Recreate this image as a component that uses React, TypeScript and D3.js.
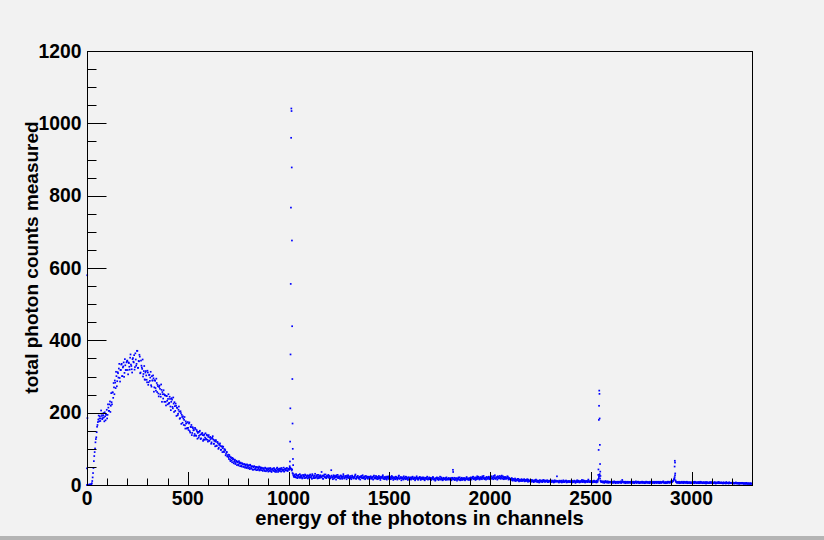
import React from 'react';
import * as d3 from 'd3';

// histogram: counts per channel, two interleaved samplings (channels 4k and 4k+2)
const CHANNEL_STEP = 4;
const countsEven: number[] = [
  0,0,1,0,2,1,5,21,47,80,101,127,146,166,181,176,190,184,197,182,193,187,201,179,194,
  184,223,205,223,202,254,223,256,282,251,283,313,273,312,297,335,286,318,335,301,328,299,348,318,339,
  344,306,337,319,361,329,311,351,339,319,364,330,371,324,343,360,309,344,325,347,307,329,291,315,291,
  316,277,304,288,313,272,289,303,258,290,268,294,257,273,245,275,251,278,230,251,262,230,248,220,246,
  223,251,227,238,207,240,216,242,202,218,225,191,213,197,217,183,204,169,188,190,166,188,156,170,156,
  174,152,173,145,160,138,160,151,136,158,137,152,128,147,136,150,127,141,144,122,137,125,143,126,137,
  120,138,123,133,114,130,135,114,122,107,124,108,119,100,111,115,97,106,91,106,91,98,82,91,79,
  84,72,79,66,74,63,71,60,68,58,66,55,63,54,62,52,60,51,59,50,57,48,56,47,55,
  46,55,44,53,45,52,42,51,43,50,41,49,42,48,40,49,41,47,39,46,40,48,38,45,41,
  37,46,39,44,36,45,40,47,37,43,39,48,36,44,41,46,37,43,40,48,38,45,41,47,39,
  44,42,47,45,40,33,27,22,29,21,27,19,26,22,30,20,25,18,28,23,19,27,21,25,18,
  26,20,29,22,17,27,24,19,31,21,25,18,28,23,20,24,36,26,17,24,21,29,19,23,26,
  20,25,18,41,22,16,27,21,24,15,23,28,19,22,17,26,20,24,30,18,21,25,16,23,27,
  19,24,21,16,26,22,18,23,29,17,21,25,19,22,15,24,20,27,18,22,16,25,21,19,23,
  22,17,24,19,21,15,26,20,18,23,16,21,25,19,14,22,20,27,17,21,18,23,15,20,24,
  18,22,16,25,19,14,21,17,23,20,15,19,26,18,21,13,20,17,24,19,16,22,18,14,21,
  17,21,15,19,23,16,18,13,20,24,17,15,19,22,14,18,21,16,19,13,20,17,23,15,18,
  16,20,14,18,22,15,17,12,19,21,16,14,18,23,15,17,13,20,16,18,14,21,17,15,19,
  15,18,13,20,42,16,14,19,17,12,18,21,15,13,17,20,14,16,19,13,17,22,15,18,14,
  17,21,15,19,23,16,18,14,20,24,17,19,15,22,18,16,21,25,17,19,15,22,18,20,16,
  21,17,24,19,16,22,27,18,20,15,23,19,25,17,21,18,24,16,20,22,17,19,23,15,18,
  17,14,19,12,16,13,18,11,15,13,17,10,14,12,16,11,13,15,10,14,12,16,9,13,11,
  12,9,14,11,8,13,10,15,9,12,11,7,13,10,12,8,14,11,9,12,10,13,8,11,10,
  11,8,12,10,7,13,9,11,24,10,8,12,9,11,7,10,13,8,10,12,7,9,11,8,10,
  9,12,7,10,8,11,6,9,13,8,10,7,11,9,14,8,10,12,7,9,11,8,15,9,10,
  8,11,7,9,12,8,10,7,9,14,22,30,12,8,10,7,9,6,11,8,7,10,6,9,8,
  7,9,6,8,10,7,5,8,9,6,8,7,10,6,14,8,7,9,5,8,6,9,7,8,6,
  8,6,9,7,5,8,10,6,7,9,5,8,6,7,9,6,8,5,7,9,6,8,7,5,8,
  7,9,6,8,5,7,9,6,8,7,5,9,6,8,7,10,6,7,5,8,6,9,7,6,8,
  7,9,11,15,22,13,8,6,8,7,5,8,6,9,7,5,8,6,7,9,5,7,6,8,6,
  7,5,8,6,9,7,5,6,8,7,5,9,6,7,5,8,6,7,4,8,6,7,5,6,8,
  6,5,7,6,8,4,6,7,5,8,6,5,7,6,4,7,5,6,8,5,6,4,7,5,6,
  5,7,4,6,5,7,4,6,5,3,6,5,4,6,5,3,5,4,6,4,3,5,4,3,4,
];
const countsOdd: number[] = [
  0,0,0,1,0,2,11,33,66,91,118,132,161,174,192,184,177,206,191,185,199,176,190,196,208,
  194,214,205,231,219,229,256,241,270,289,268,301,287,309,322,296,318,333,301,325,339,310,331,318,342,
  318,339,327,352,333,320,348,341,359,326,347,335,371,324,342,355,311,330,321,300,315,292,311,303,284,
  311,284,305,297,276,301,289,295,270,288,261,282,277,253,271,266,244,263,257,239,251,248,230,246,233,
  238,225,244,217,230,236,212,225,229,205,219,214,193,208,203,185,199,194,172,184,180,165,176,171,158,
  158,170,149,161,166,144,157,152,141,155,136,148,144,131,147,139,129,142,138,126,140,131,128,139,125,
  133,122,131,127,118,130,126,114,124,120,109,119,115,103,112,108,98,107,102,93,99,96,86,91,80,
  77,83,70,77,68,75,72,64,70,61,67,64,57,66,59,62,54,60,57,51,58,53,49,57,50,
  53,48,56,47,51,43,49,52,44,47,50,42,46,51,43,45,48,41,46,44,39,47,43,40,46,
  43,40,47,38,42,45,39,44,41,36,46,42,39,45,38,43,47,40,42,37,44,41,46,39,43,
  45,48,46,44,43,31,24,26,23,30,21,25,28,20,24,27,22,19,26,24,29,20,23,27,21,
  23,27,21,25,30,19,22,26,20,24,28,22,19,25,27,21,23,18,26,29,22,20,25,23,28,
  24,19,22,26,20,23,18,25,21,27,22,19,24,20,26,23,17,22,25,19,24,21,26,20,22,
  22,18,25,20,23,19,21,26,18,22,24,20,17,23,21,25,19,22,20,24,18,21,23,17,22,
  19,23,21,17,22,24,18,21,25,19,22,17,20,23,19,21,24,18,22,16,21,19,23,20,17,
  21,17,20,23,18,21,19,16,22,18,20,24,17,19,22,18,21,15,20,18,23,17,19,21,16,
  19,16,20,22,17,19,21,16,18,20,15,19,22,17,20,16,18,21,15,19,17,20,16,18,21,
  18,15,19,17,21,16,18,14,19,17,20,15,18,16,21,17,14,19,16,18,20,15,17,19,16,
  17,19,15,18,16,20,14,17,19,16,18,15,21,17,14,18,16,19,15,17,20,16,18,15,19,
  19,16,20,22,17,19,21,18,16,20,23,18,19,17,21,24,18,20,16,19,22,17,20,23,18,
  20,23,18,21,25,19,17,22,20,24,18,21,19,23,26,18,20,22,17,21,19,24,18,20,16,
  16,18,14,17,15,12,16,14,13,17,12,15,13,11,15,14,12,16,13,11,14,12,15,10,12,
  11,13,10,12,9,11,14,10,12,8,11,13,10,9,12,11,10,13,9,11,12,8,10,12,9,
  10,12,9,11,8,10,12,9,11,10,7,11,9,12,10,8,11,9,10,12,8,10,9,11,8,
  10,8,11,9,12,10,8,11,9,12,10,8,9,11,10,13,9,8,11,10,9,12,10,8,11,
  9,10,8,11,9,10,8,12,9,17,25,18,10,9,8,10,7,9,8,10,7,9,8,7,9,
  8,7,9,6,8,9,7,8,6,9,7,8,6,9,10,7,8,6,9,7,8,6,8,7,9,
  7,8,6,9,7,8,6,8,9,7,6,8,7,9,6,8,7,6,9,7,8,6,7,9,7,
  8,6,7,9,7,8,6,7,9,6,8,7,6,8,9,7,6,8,7,6,9,7,8,9,10,
  8,10,12,16,27,10,7,8,6,9,7,6,8,7,6,9,7,8,6,7,8,6,7,5,7,
  6,8,7,5,7,8,6,7,5,8,6,7,8,5,6,7,5,8,6,7,5,6,8,6,7,
  7,6,5,7,6,5,7,6,8,5,6,7,5,6,7,5,6,4,7,6,5,7,5,6,5,
  6,5,6,4,6,5,5,4,6,5,4,5,6,4,5,4,5,3,5,4,4,3,4,5,3,
];

// individual channels of the sharp lines (and first channels)
const peakChannels: number[] = [
  0, 1, 2,
  1006, 1007, 1008, 1009, 1010, 1011, 1012, 1013, 1014, 1015, 1016, 1017, 1018, 1019, 1020, 1021, 1022, 1023,
  1817,
  2537, 2538, 2539, 2540, 2541, 2542, 2543, 2544, 2545, 2546, 2547, 2548,
  2915, 2916, 2917, 2918, 2919,
];
const peakCounts: number[] = [
  46, 580, 185,
  52, 65, 120, 212, 361, 556, 767, 960, 1041, 1034, 878, 676, 439, 293, 170, 100, 72, 55,
  36,
  28, 43, 97, 180, 219, 261, 252, 184, 111, 58, 37, 25,
  18, 51, 67, 62, 32,
];

const xTickValues = [0, 500, 1000, 1500, 2000, 2500, 3000];
const yTickValues = [0, 200, 400, 600, 800, 1000, 1200];
const xTitle = 'energy of the photons in channels';
const yTitle = 'total photon counts measured';

const FONT = '"Liberation Sans", Arial, Helvetica, sans-serif';

export default function App() {
  const W = 824, H = 540;
  const left = 87, right = 752, top = 51, bottom = 485;
  const x = d3.scaleLinear().domain([0, 3300]).range([left, right]);
  const y = d3.scaleLinear().domain([0, 1200]).range([bottom, top]);

  const points = countsEven
    .map((v, i) => ({ ch: i * CHANNEL_STEP, v }))
    .concat(countsOdd.map((v, i) => ({ ch: i * CHANNEL_STEP + CHANNEL_STEP / 2, v })))
    .concat(peakChannels.map((ch, i) => ({ ch, v: peakCounts[i] })));

  const xMinor = d3.range(0, 3301, 100);
  const yMinor = d3.range(0, 1201, 50);
  const dot = 1.7;

  return (
    <div style={{ position: 'absolute', left: 0, top: 0, width: W, height: H }}>
      <svg width={W} height={H} style={{ display: 'block' }}>
        <rect x={0} y={0} width={W} height={H} fill="#f2f2f2" />
        <rect x={0} y={536} width={W} height={4} fill="#b4b4b4" />
        <g fill="#0000ff">
          {points.map((p, i) => (
            <rect key={i} x={x(p.ch) - dot / 2} y={y(p.v) - dot / 2} width={dot} height={dot} />
          ))}
        </g>
        <rect x={left + 0.5} y={top + 0.5} width={right - left} height={bottom - top} fill="none" stroke="#000" strokeWidth={1} />
        <g stroke="#000" strokeWidth={1}>
          {xMinor.map((t) => {
            const major = t % 500 === 0;
            const xp = Math.round(x(t)) + 0.5;
            return <line key={'xm' + t} x1={xp} x2={xp} y1={bottom} y2={bottom - (major ? 13 : 6.5)} />;
          })}
          {yMinor.map((t) => {
            const major = t % 200 === 0;
            const yp = Math.round(y(t)) + 0.5;
            return <line key={'ym' + t} x1={left} x2={left + (major ? 19.5 : 9.5)} y1={yp} y2={yp} />;
          })}
        </g>
        <g fontFamily={FONT} fontWeight="bold" fontSize={19.3} fill="#000">
          {xTickValues.map((t) => (
            <text key={'xl' + t} x={x(t)} y={505} textAnchor="middle">{t}</text>
          ))}
          {yTickValues.map((t) => (
            <text key={'yl' + t} x={81.5} y={y(t) + 6.8} textAnchor="end">{t}</text>
          ))}
        </g>
        <text x={(left + right) / 2} y={525} textAnchor="middle" fontFamily={FONT} fontWeight="bold" fontSize={20.2} fill="#000">{xTitle}</text>
        <text transform={`translate(37.5,257.5) rotate(-90)`} textAnchor="middle" fontFamily={FONT} fontWeight="bold" fontSize={19} fill="#000">{yTitle}</text>
      </svg>
    </div>
  );
}
